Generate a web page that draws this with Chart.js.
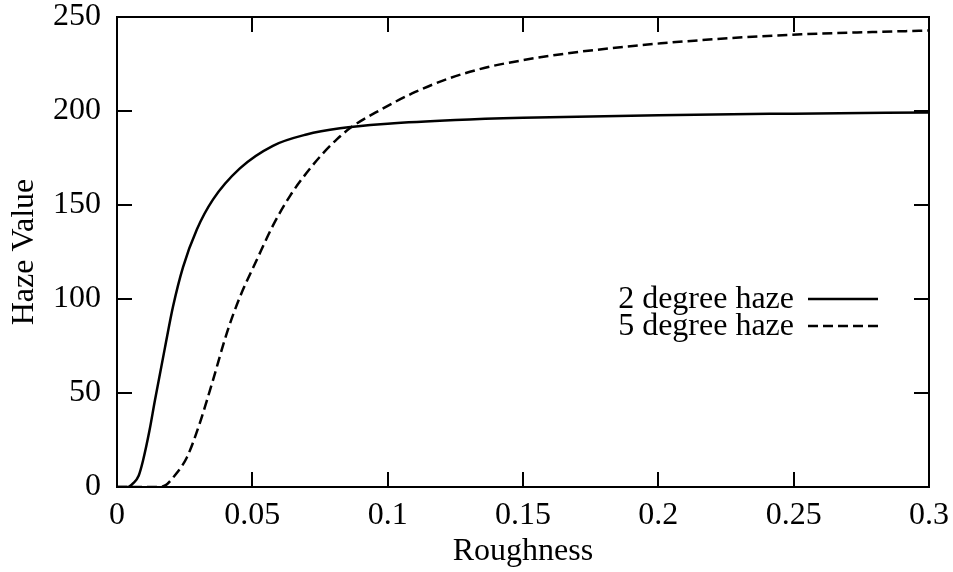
<!DOCTYPE html>
<html>
<head>
<meta charset="utf-8">
<script src="https://cdn.jsdelivr.net/npm/chart.js@4.4.1/dist/chart.umd.min.js"></script>
<style>
  html, body { margin: 0; padding: 0; background: #fff; }
  #wrap { width: 953px; height: 572px; }
</style>
</head>
<body>
<div id="wrap"><canvas id="hazeChart"></canvas></div>
<script>
// roughness / haze values
const x2deg = [0, 0.004, 0.006, 0.008, 0.0096, 0.012, 0.014, 0.0177, 0.0207, 0.0244, 0.0295, 0.0355, 0.0454, 0.0576, 0.07, 0.0824, 0.1, 0.125, 0.15, 0.2, 0.25, 0.3];
const haze2deg = [0, 0, 2, 6, 14, 30, 46, 74, 96, 117, 137, 153, 169.5, 181.5, 187.5, 190.8, 193.2, 195.2, 196.4, 197.8, 198.6, 199.2];

const x5deg = [0, 0.015, 0.018, 0.0207, 0.0259, 0.0306, 0.0332, 0.0355, 0.0406, 0.0454, 0.0517, 0.0576, 0.064, 0.07, 0.0761, 0.0813, 0.0865, 0.0972, 0.11, 0.123, 0.136, 0.149, 0.162, 0.175, 0.201, 0.227, 0.253, 0.279, 0.3];
const haze5deg = [0, 0, 1, 5, 16, 34, 46, 57, 82, 101, 121, 139, 155, 167, 177.5, 185, 191.3, 200.5, 210, 217.5, 223, 226.8, 229.8, 232.2, 236, 238.8, 240.8, 242, 242.8];

const xTicks = [0, 0.05, 0.1, 0.15, 0.2, 0.25, 0.3];
const yTicks = [0, 50, 100, 150, 200, 250];

const FONT = '"Liberation Serif", "DejaVu Serif", serif';
const FONT_SIZE = 32;
const TICK_LEN = 15;

const toPoints = (xs, ys) => xs.map((x, i) => ({ x: x, y: ys[i] }));

// gnuplot style box with inward ticks on all four sides
const frame = {
  id: 'frame',
  afterDraw(chart) {
    const { ctx, chartArea: a, scales } = chart;
    ctx.save();
    ctx.strokeStyle = '#000';
    ctx.lineWidth = 2;
    ctx.strokeRect(a.left, a.top, a.right - a.left, a.bottom - a.top);
    ctx.beginPath();
    xTicks.forEach(v => {
      const px = Math.round(scales.x.getPixelForValue(v));
      ctx.moveTo(px, a.bottom); ctx.lineTo(px, a.bottom - TICK_LEN);
      ctx.moveTo(px, a.top); ctx.lineTo(px, a.top + TICK_LEN);
    });
    yTicks.forEach(v => {
      const py = Math.round(scales.y.getPixelForValue(v));
      ctx.moveTo(a.left, py); ctx.lineTo(a.left + TICK_LEN, py);
      ctx.moveTo(a.right, py); ctx.lineTo(a.right - TICK_LEN, py);
    });
    ctx.stroke();
    ctx.restore();
  }
};

// key: label right-aligned, line sample to its right
const key = {
  id: 'key',
  afterDraw(chart) {
    const { ctx } = chart;
    ctx.save();
    ctx.font = FONT_SIZE + 'px ' + FONT;
    ctx.fillStyle = '#000';
    ctx.textAlign = 'right';
    ctx.textBaseline = 'middle';
    chart.data.datasets.forEach((ds, i) => {
      const y = 299 + i * 27;
      ctx.fillText(ds.label, 794, y + 1);
      ctx.strokeStyle = ds.borderColor;
      ctx.lineWidth = ds.borderWidth;
      ctx.setLineDash(ds.borderDash || []);
      ctx.beginPath();
      ctx.moveTo(808, y);
      ctx.lineTo(878, y);
      ctx.stroke();
    });
    ctx.restore();
  }
};

const ctx = document.getElementById('hazeChart').getContext('2d');

new Chart(ctx, {
  type: 'line',
  data: {
    datasets: [{
      label: '2 degree haze',
      data: toPoints(x2deg, haze2deg),
      borderColor: '#000',
      borderWidth: 2.5,
      pointRadius: 0,
      cubicInterpolationMode: 'monotone',
      fill: false
    }, {
      label: '5 degree haze',
      data: toPoints(x5deg, haze5deg),
      borderColor: '#000',
      borderWidth: 2.5,
      borderDash: [10, 5],
      pointRadius: 0,
      cubicInterpolationMode: 'monotone',
      fill: false
    }]
  },
  options: {
    responsive: true,
    maintainAspectRatio: false,
    animation: false,
    layout: { padding: { top: 17, right: 24, left: 0, bottom: 0 } },
    scales: {
      x: {
        type: 'linear',
        min: 0,
        max: 0.3,
        afterBuildTicks: (s) => { s.ticks = xTicks.map(v => ({ value: v })); },
        afterFit: (s) => { s.height = 85; s.paddingLeft = 0; s.paddingRight = 0; },
        grid: { display: false, drawTicks: false },
        border: { display: false },
        ticks: {
          color: '#000',
          padding: 9,
          maxRotation: 0,
          font: { family: FONT, size: FONT_SIZE },
          callback: (v) => String(v)
        },
        title: {
          display: true,
          text: 'Roughness',
          color: '#000',
          font: { family: FONT, size: FONT_SIZE },
          padding: { top: 0, bottom: 1 }
        }
      },
      y: {
        min: 0,
        max: 250,
        afterBuildTicks: (s) => { s.ticks = yTicks.map(v => ({ value: v })); },
        afterFit: (s) => { s.width = 117; s.paddingTop = 0; s.paddingBottom = 0; },
        grid: { display: false, drawTicks: false },
        border: { display: false },
        ticks: {
          color: '#000',
          padding: 16,
          font: { family: FONT, size: FONT_SIZE }
        },
        title: {
          display: true,
          text: 'Haze Value',
          color: '#000',
          font: { family: FONT, size: FONT_SIZE },
          padding: { top: 5, bottom: 0 }
        }
      }
    },
    plugins: {
      legend: { display: false },
      tooltip: { enabled: false }
    }
  },
  plugins: [frame, key]
});
</script>
</body>
</html>
